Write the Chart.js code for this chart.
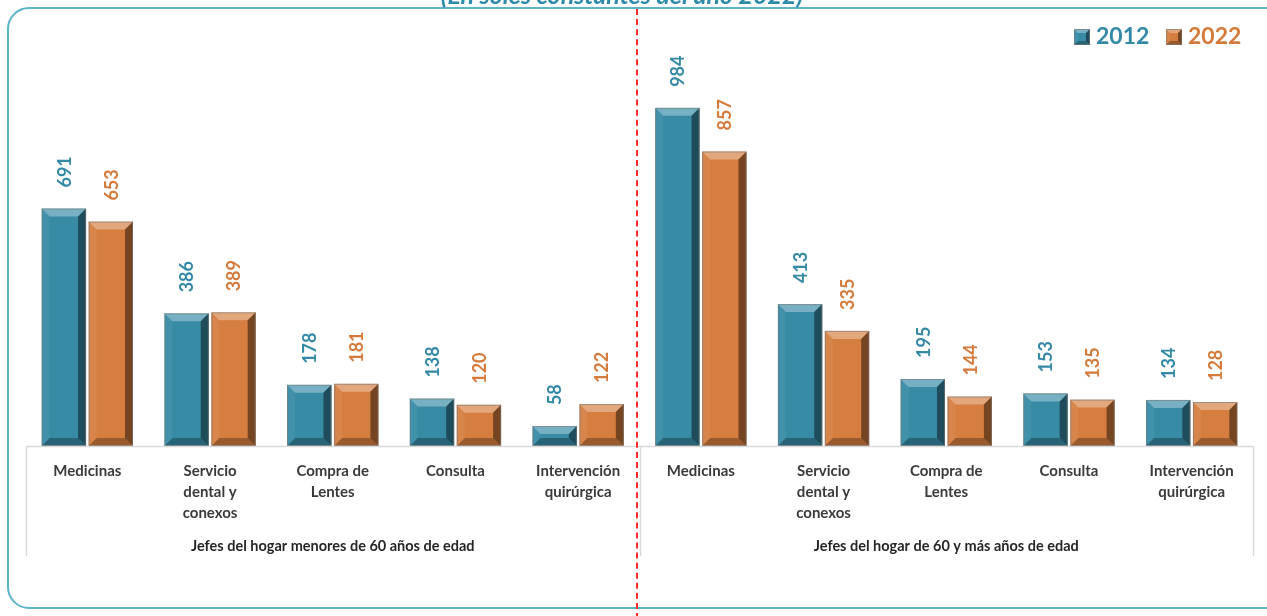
<!DOCTYPE html>
<html>
<head>
<meta charset="utf-8">
<script src="https://cdn.jsdelivr.net/npm/chart.js@4.4.1/dist/chart.umd.min.js"></script>
<style>
  html,body{margin:0;padding:0;background:#fff;overflow:hidden;}
  #wrap{position:relative;width:1267px;height:616px;overflow:hidden;}
  #box{position:absolute;left:7px;top:7px;width:1290px;height:602px;border:2px solid #5DB3CC;border-radius:22px;box-sizing:border-box;}
  #title{position:absolute;left:0;width:1244px;top:-18px;text-align:center;font-family:Lato,"Open Sans",sans-serif;font-weight:bold;font-style:italic;font-size:25px;line-height:25px;color:#2E8BA8;white-space:nowrap;}
  #sep{position:absolute;left:636px;top:9px;height:610px;width:0;border-left:2px dashed #FF2B2B;}
  canvas{position:absolute;left:0;top:0;}
</style>
</head>
<body>
<div id="wrap">
  <div id="box"></div>
  <canvas id="c" width="1267" height="616"></canvas>
  <div id="title">(En soles constantes del año 2022)</div>
  <div id="sep"></div>
</div>
<script>
const categories = [
  "Medicinas", ["Servicio","dental y","conexos"], ["Compra de","Lentes"], "Consulta", ["Intervención","quirúrgica"],
  "Medicinas", ["Servicio","dental y","conexos"], ["Compra de","Lentes"], "Consulta", ["Intervención","quirúrgica"]
];
const groups = ["Jefes del hogar menores de 60 años de edad", "Jefes del hogar de 60 y más años de edad"];
const seriesNames = ["2012", "2022"];
const values2012 = [691, 386, 178, 138, 58, 984, 413, 195, 153, 134];
const values2022 = [653, 389, 181, 120, 122, 857, 335, 144, 135, 128];

const TEAL = "#378BA5";
const ORANGE = "#D57E3F";
const TEAL_TXT = "#3489A6";
const ORANGE_TXT = "#D47A3A";
const FONT = "Lato, 'Open Sans', sans-serif";

function bevel(ctx, x0, y0, x1, y1, b, base) {
  const w = x1 - x0, h = y1 - y0;
  const bb = Math.min(b, w / 2, h / 2);
  ctx.save();
  ctx.fillStyle = base;
  ctx.fillRect(x0, y0, w, h);
  ctx.beginPath();
  ctx.moveTo(x0, y0); ctx.lineTo(x1, y0); ctx.lineTo(x1 - bb, y0 + bb); ctx.lineTo(x0 + bb, y0 + bb); ctx.closePath();
  ctx.fillStyle = "rgba(255,255,255,0.32)"; ctx.fill();
  ctx.beginPath();
  ctx.moveTo(x0, y0); ctx.lineTo(x0 + bb, y0 + bb); ctx.lineTo(x0 + bb, y1 - bb); ctx.lineTo(x0, y1); ctx.closePath();
  ctx.fillStyle = "rgba(255,255,255,0.06)"; ctx.fill();
  ctx.beginPath();
  ctx.moveTo(x1, y0); ctx.lineTo(x1, y1); ctx.lineTo(x1 - bb, y1 - bb); ctx.lineTo(x1 - bb, y0 + bb); ctx.closePath();
  ctx.fillStyle = "rgba(0,0,0,0.45)"; ctx.fill();
  ctx.beginPath();
  ctx.moveTo(x0, y1); ctx.lineTo(x1, y1); ctx.lineTo(x1 - bb, y1 - bb); ctx.lineTo(x0 + bb, y1 - bb); ctx.closePath();
  ctx.fillStyle = "rgba(0,0,0,0.28)"; ctx.fill();
  ctx.strokeStyle = "rgba(120,120,120,0.6)";
  ctx.lineWidth = 1;
  ctx.strokeRect(x0 + 0.5, y0 + 0.5, w - 1, h - 1);
  ctx.restore();
}

const bevelPlugin = {
  id: "bevelBars",
  afterDatasetsDraw(chart) {
    const ctx = chart.ctx;
    chart.data.datasets.forEach((ds, i) => {
      const meta = chart.getDatasetMeta(i);
      meta.data.forEach((el, j) => {
        const p = el.getProps(["x", "y", "base", "width"], true);
        bevel(ctx, p.x - p.width / 2, p.y, p.x + p.width / 2, p.base, 8, ds.faceColor);
        ctx.save();
        ctx.translate(p.x + 1, p.y - 21);
        ctx.rotate(-Math.PI / 2);
        ctx.font = "bold 18px " + FONT;
        ctx.fillStyle = ds.labelColor;
        ctx.textAlign = "left";
        ctx.textBaseline = "middle";
        ctx.fillText(String(ds.data[j]), 0, 0);
        ctx.restore();
      });
    });
  }
};

const framePlugin = {
  id: "frame",
  afterDraw(chart) {
    const ctx = chart.ctx;
    const x = chart.scales.x;
    const area = chart.chartArea;
    const step = x.getPixelForValue(1) - x.getPixelForValue(0);
    const bounds = [x.getPixelForValue(0) - step / 2, x.getPixelForValue(5) - step / 2, x.getPixelForValue(9) + step / 2];
    ctx.save();
    ctx.strokeStyle = "#D9D9D9";
    ctx.lineWidth = 1.5;
    ctx.beginPath();
    ctx.moveTo(bounds[0], area.bottom + 0.5); ctx.lineTo(bounds[2], area.bottom + 0.5);
    bounds.forEach(b => { ctx.moveTo(Math.round(b) + 0.5, area.bottom); ctx.lineTo(Math.round(b) + 0.5, 556); });
    ctx.stroke();
    ctx.font = "bold 14.5px " + FONT;
    ctx.fillStyle = "#262626";
    ctx.textAlign = "center";
    ctx.textBaseline = "middle";
    ctx.fillText(groups[0], (bounds[0] + bounds[1]) / 2, 546);
    ctx.fillText(groups[1], (bounds[1] + bounds[2]) / 2, 546);
    let lx = 1074;
    chart.data.datasets.forEach((ds) => {
      bevel(ctx, lx, 29, lx + 16, 45, 4, ds.faceColor);
      ctx.font = "bold 23px " + FONT;
      ctx.fillStyle = ds.labelColor;
      ctx.textAlign = "left";
      ctx.textBaseline = "middle";
      ctx.fillText(ds.label, lx + 22, 37);
      lx += 92;
    });
    ctx.restore();
  }
};

new Chart(document.getElementById("c"), {
  type: "bar",
  data: {
    labels: categories,
    datasets: [
      { label: seriesNames[0], data: values2012, backgroundColor: "rgba(0,0,0,0)", faceColor: TEAL, labelColor: TEAL_TXT },
      { label: seriesNames[1], data: values2022, backgroundColor: "rgba(0,0,0,0)", faceColor: ORANGE, labelColor: ORANGE_TXT }
    ]
  },
  options: {
    responsive: false,
    animation: false,
    devicePixelRatio: 1,
    layout: { padding: { left: 26, right: 14, top: 68, bottom: 0 } },
    datasets: { bar: { categoryPercentage: 0.765, barPercentage: 0.945, borderWidth: 0 } },
    plugins: { legend: { display: false }, tooltip: { enabled: false } },
    scales: {
      x: {
        grid: { display: false, drawTicks: false },
        border: { display: false },
        ticks: {
          autoSkip: false, maxRotation: 0, minRotation: 0, padding: 14,
          color: "#3A3A3A",
          font: { family: FONT, size: 15, weight: "bold", lineHeight: 1.43 }
        },
        afterFit(scale) { scale.height = 170; }
      },
      y: { display: false, min: 0, max: 1100 }
    }
  },
  plugins: [bevelPlugin, framePlugin]
});
</script>
</body>
</html>
